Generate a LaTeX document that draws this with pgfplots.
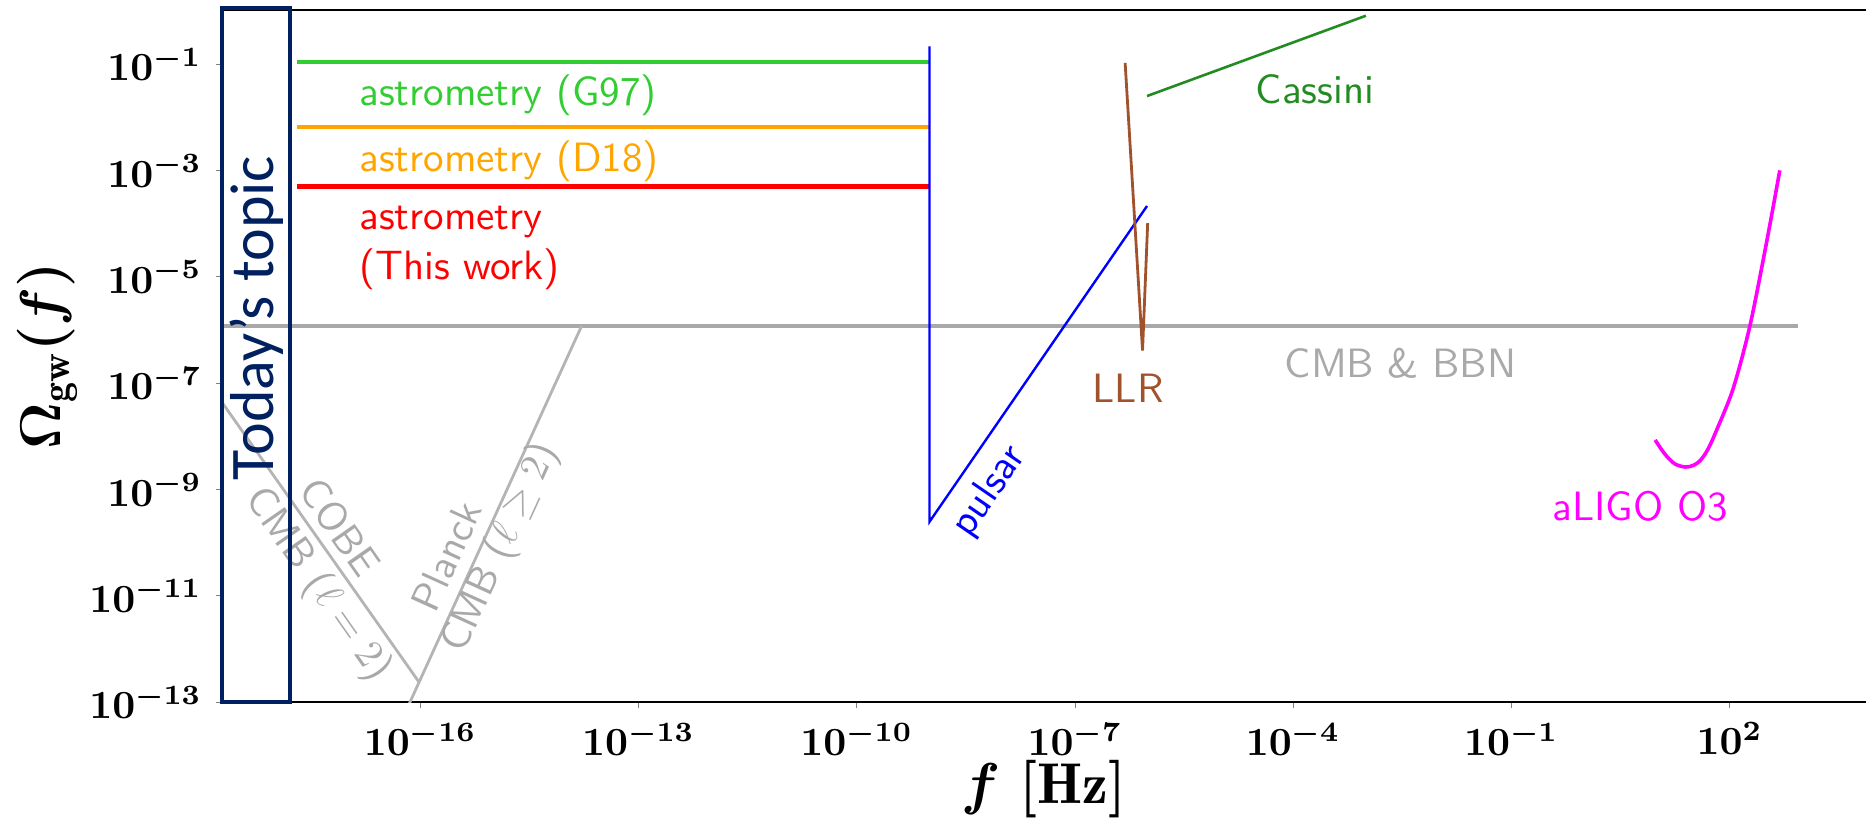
\documentclass[border=0pt]{standalone}
\usepackage{pgfplots}
\pgfplotsset{compat=1.18}
\usepackage{fontspec}
\newfontfamily\carlito{Carlito}
\definecolor{navybox}{RGB}{0,32,96}
\definecolor{cgreen}{HTML}{32CD32}
\definecolor{corange}{HTML}{FFA500}
\definecolor{cgray}{HTML}{A9A9A9}
\definecolor{clgray}{HTML}{B4B4B4}
\definecolor{csienna}{HTML}{A0522D}
\definecolor{cforest}{HTML}{228B22}
\definecolor{cmag}{RGB}{255,0,255}
\newcommand\lab{\fontsize{10.25}{12.5}\selectfont\sffamily}
\newcommand\axlab{\fontsize{14.4}{17}\selectfont\boldmath}
\begin{document}
\begin{tikzpicture}
\path[use as bounding box] (-55.5pt,-29.25pt) rectangle (411pt,175.5pt);
\begin{axis}[
  at={(0,0)}, anchor=south west,
  scale only axis, width=411pt, height=173.125pt,
  xmode=log, ymode=log,
  xmin=1.88e-19, xmax=7.5e3, ymin=1e-13, ymax=1.06,
  xtick={1e-16,1e-13,1e-10,1e-7,1e-4,1e-1,1e2},
  ytick={1e-13,1e-11,1e-9,1e-7,1e-5,1e-3,1e-1},
  xminorticks=false, yminorticks=false,
  tick align=outside, xtick pos=bottom, ytick pos=left,
  major tick length=1.5pt,
  separate axis lines,
  axis line style={line width=0.5pt},
  y axis line style={draw=none},
  clip mode=individual,
  tick label style={font=\fontsize{10.2}{12}\selectfont\boldmath},
  xlabel={$f\ [\mathrm{Hz}]$},
  ylabel={$\Omega_{\mathrm{gw}}(f)$},
  every axis x label/.style={at={(axis description cs:0.5,-0.1256)},anchor=center,font=\axlab},
  every axis y label/.style={at={(axis description cs:-0.1063,0.5)},rotate=90,anchor=center,font=\axlab},
  every node/.append style={inner sep=0pt},
]
% CMB & BBN
\addplot[cgray, line width=1.0pt] coordinates {(1e-19,1.2e-6) (8.7e2,1.2e-6)};
% COBE
\addplot[clgray, line width=0.7pt] coordinates {(1e-19,1.48e-7) (9.55e-17,2.4e-13)};
% Planck
\addplot[clgray, line width=0.7pt] coordinates {(6.3e-17,6.6e-14) (1.66e-14,1.2e-6)};
% astrometry
\addplot[cgreen, line width=1.1pt] coordinates {(2e-18,1.1e-1) (1e-9,1.1e-1)};
\addplot[corange, line width=1.1pt] coordinates {(2e-18,6.6e-3) (1e-9,6.6e-3)};
\addplot[red, line width=1.1pt] coordinates {(2e-18,5e-4) (1e-9,5e-4)};
% pulsar
\addplot[blue, line width=0.6pt] coordinates {(1e-9,0.214) (1e-9,2.45e-10) (9.8e-7,2.14e-4)};
% LLR
\addplot[csienna, line width=0.7pt] coordinates {(4.9e-7,0.105) (8.5e-7,4.07e-7) (1.0e-6,1.02e-4)};
% Cassini
\addplot[cforest, line width=0.65pt] coordinates {(9.8e-7,2.5e-2) (1e-3,0.81)};
% aLIGO O3
\addplot[cmag, line width=0.9pt, smooth] coordinates {
 (9.46,8.5e-9) (11.2,6.0e-9) (13.7,4.17e-9) (17.8,3.0e-9) (24.4,2.63e-9)
 (31.6,2.82e-9) (39.4,3.47e-9) (50.1,5.6e-9) (66.1,1.29e-8) (112,7.9e-8)
 (190.5,1.2e-6) (323.6,4.57e-5) (490,1.0e-3)};

\node[text=cgreen, anchor=west, font=\lab] at (axis cs:9.3e-18,2.6e-2) {astrometry (G97)};
\node[text=corange, anchor=west, font=\lab] at (axis cs:9.3e-18,1.5e-3) {astrometry (D18)};
\node[text=red, anchor=west, align=left, font=\lab] at (axis cs:9.3e-18,3.5e-5) {astrometry\\(This work)};
\node[text=cforest, anchor=west, font=\lab] at (axis cs:1.97e-5,3.4e-2) {Cassini};
\node[text=csienna, font=\lab] at (axis cs:5.4e-7,7.9e-8) {LLR};
\node[text=cgray, font=\lab] at (axis cs:3.0e-3,2.4e-7) {CMB \& BBN};
\node[text=cmag, font=\lab] at (axis cs:5.9,4.8e-10) {aLIGO O3};
\node[text=blue, rotate=55.5, font=\lab] at (axis cs:6.7e-9,9.1e-10) {pulsar};
\node[text=cgray, rotate=-55, font=\lab] at (axis cs:7.9e-18,1.95e-10) {COBE};
\node[text=cgray, rotate=-55, font=\lab] at (axis cs:3.9e-18,1.6e-11) {CMB ($\ell = 2$)};
\node[text=cgray, rotate=65.5, font=\lab] at (axis cs:2.3e-16,5.5e-11) {Planck};
\node[text=cgray, rotate=65.5, font=\lab] at (axis cs:1.3e-15,7.8e-11) {CMB ($\ell \geq 2$)};

\draw[navybox, line width=0.9pt] (rel axis cs:0,0) rectangle (rel axis cs:0.0415,1.0023);
\node[text=navybox, rotate=90, font=\carlito\fontsize{15.5}{18}\selectfont] at (rel axis cs:0.0209,0.5545) {Today’s topic};
\end{axis}
\end{tikzpicture}
\end{document}
